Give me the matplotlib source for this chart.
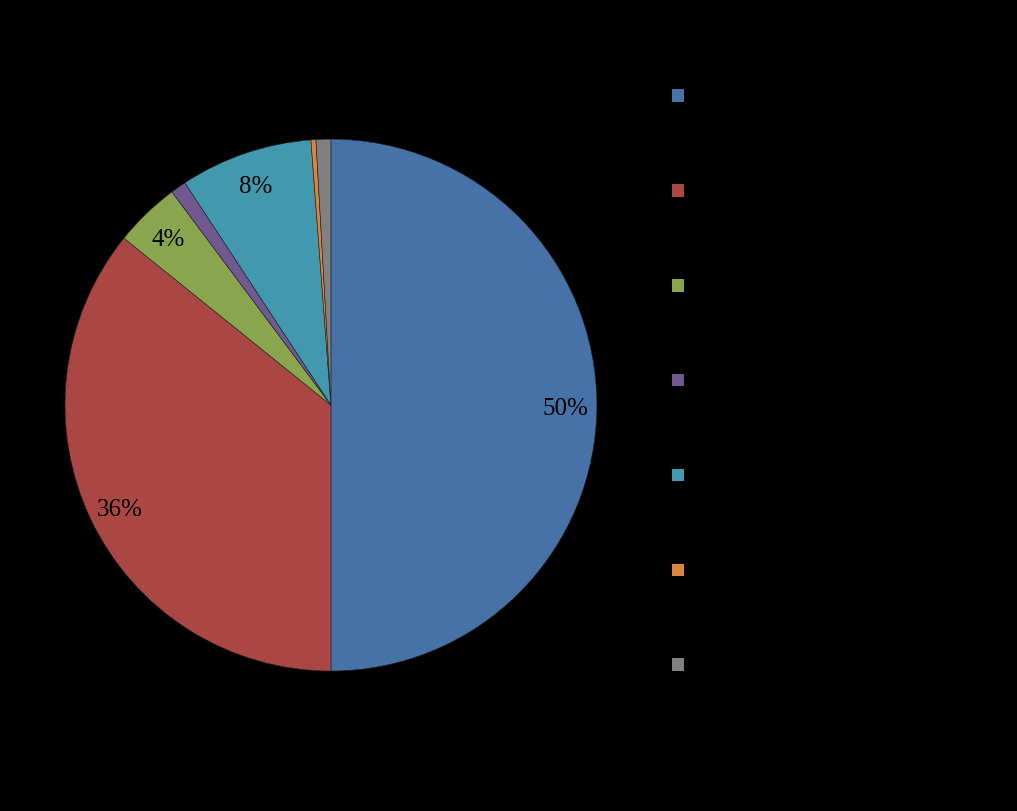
import matplotlib
matplotlib.use("Agg")
import matplotlib.pyplot as plt
from matplotlib.patches import Patch

categories = ["Category 1", "Category 2", "Category 3", "Category 4",
              "Category 5", "Category 6", "Category 7"]
shares = [50.0, 35.8, 4.0, 0.95, 8.05, 0.3, 0.9]
colours = ["#4672a8", "#aa4744", "#89a54e", "#71588f", "#4298ae", "#db843d", "#808080"]


def _pct(p):
    return f"{p:.0f}%" if p >= 2 else ""


fig = plt.figure(figsize=(10.17, 8.12), dpi=100, facecolor="black")
ax = fig.add_axes([0.0639, 0.1724, 0.523, 0.655])
ax.set_facecolor("black")
wedges, texts, autotexts = ax.pie(
    shares, colors=colours, startangle=90, counterclock=False,
    autopct=_pct, pctdistance=0.88, radius=1.0,
    wedgeprops=dict(edgecolor="#222222", linewidth=0.4),
    textprops=dict(fontsize=18, family="Liberation Serif", color="black"))
for t in autotexts:
    t.set_y(t.get_position()[1] - 0.01)
ax.set_xlim(-1, 1); ax.set_ylim(-1, 1)
ax.set_aspect("equal")

handles = [Patch(facecolor=c, edgecolor="none") for c in colours]
leg = fig.legend(handles, categories, loc="upper left",
                 bbox_to_anchor=(0.661, 0.891), frameon=False,
                 fontsize=14, labelcolor="black", handlelength=0.62,
                 handleheight=0.62, handletextpad=0.6, labelspacing=3.9,
                 borderpad=0, borderaxespad=0)

fig.savefig("out.png", dpi=100, facecolor="black")
